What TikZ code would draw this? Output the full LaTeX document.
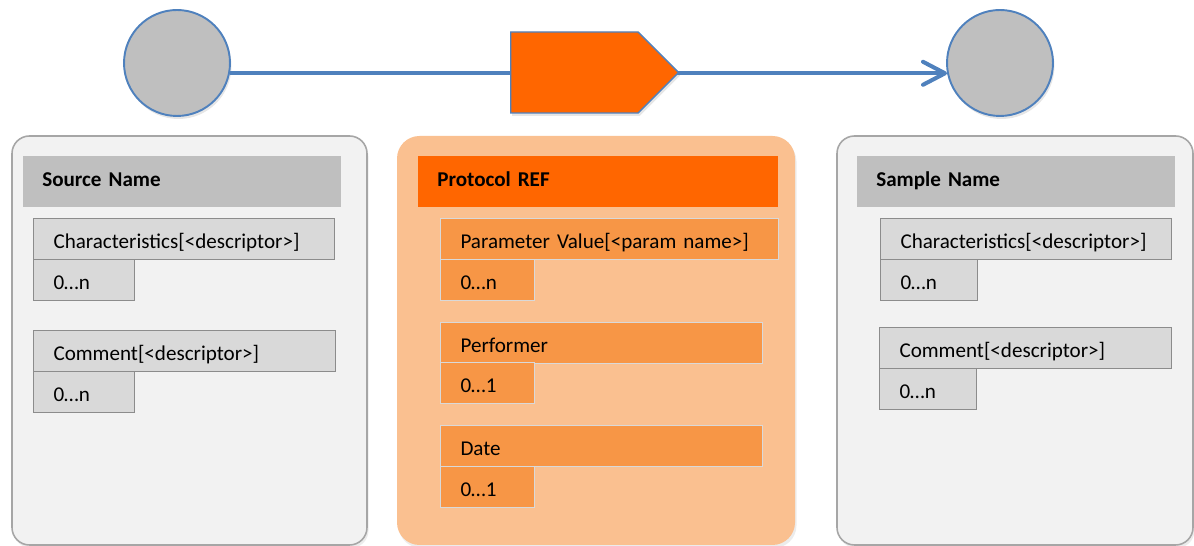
\documentclass[tikz,border=0pt]{standalone}
\usepackage{fontspec}
\setmainfont{Carlito}
\usetikzlibrary{shapes.symbols,arrows.meta,shadows}

\definecolor{linkblue}{HTML}{4F81BD}
\definecolor{nodegray}{HTML}{BFBFBF}
\definecolor{panelbg}{HTML}{F2F2F2}
\definecolor{panelline}{HTML}{A6A6A6}
\definecolor{attrgray}{HTML}{D9D9D9}
\definecolor{attrline}{HTML}{8C8C8C}
\definecolor{protobg}{HTML}{FAC090}
\definecolor{protohead}{HTML}{FF6600}
\definecolor{protoattr}{HTML}{F79646}

\tikzset{
  entity/.style={circle, draw=linkblue, line width=1.1pt, fill=nodegray, minimum size=2.12cm, inner sep=0pt, drop shadow={opacity=0.2, shadow xshift=0.03cm, shadow yshift=-0.06cm}},
  flow/.style={draw=linkblue, line width=2.3pt, -{Straight Barb[length=4.4mm,width=4.6mm,round]}},
  protocol/.style={signal, signal to=east, signal pointer angle=90, draw=linkblue, line width=0.8pt, fill=protohead, minimum width=3.36cm, minimum height=1.62cm, inner sep=0pt, drop shadow={opacity=0.2, shadow xshift=0.03cm, shadow yshift=-0.06cm}},
  panel/.style={rounded corners=0.35cm, draw=panelline, line width=0.9pt, fill=panelbg, drop shadow={opacity=0.15, shadow xshift=0.03cm, shadow yshift=-0.06cm}},
  head/.style={anchor=north west, fill=nodegray, font=\fontsize{12}{14}\selectfont\bfseries, align=left, inner xsep=0.38cm, inner ysep=0pt, minimum height=1.02cm, text height=0.2cm, text depth=0pt},
  attr/.style={anchor=north west, draw=attrline, line width=0.6pt, fill=attrgray, font=\fontsize{12}{14}\selectfont, align=left, inner xsep=0.4cm, inner ysep=0pt, minimum height=0.82cm, text height=0.38cm, text depth=0pt},
  protoattr/.style={attr, fill=protoattr, draw=attrgray},
}

\begin{document}
\begin{tikzpicture}[x=0.02cm,y=-0.02cm]
\useasboundingbox (0,0) rectangle (1194,546);

% flow on top
\node[entity] (src) at (177,63) {};
\node[entity] (smp) at (1000,63) {};
\draw[flow] (src.-11) -- (smp.191);
\node[protocol, anchor=west] (proto) at (510,72.5) {};

% source
\draw[panel] (12,136) rectangle (367,545);
\node[head, text width=5.6cm] (srchead) at (23,156) {Source Name};
\foreach \n/\x/\y/\w/\t in {char/33/218/301/{Characteristics[<descriptor>]},
  charnum/33/259/101/{0…n},
  comm/33/330/302/{Comment[<descriptor>]},
  commnum/33/371/101/{0…n}}{
  \pgfmathsetmacro\tw{\w*0.02-0.8}
  \node[attr, text width=\tw cm] (src-\n) at (\x,\y) {\t};
}

% protocol
\draw[panel, draw=none, fill=protobg, rounded corners=0.45cm] (397,136) rectangle (795,545);
\node[head, fill=protohead, text width=6.44cm] (prothead) at (418,156) {Protocol REF};
\foreach \n/\x/\y/\w/\t in {par/440/218/338/{Parameter Value[<param name>]},
  parnum/440/259/94/{0…n},
  perf/440/322/322/{Performer},
  perfnum/440/362/94/{0…1},
  date/440/425/322/{Date},
  datenum/440/466/94/{0…1}}{
  \pgfmathsetmacro\tw{\w*0.02-0.8}
  \node[protoattr, text width=\tw cm] (proto-\n) at (\x,\y) {\t};
}

% sample
\draw[panel] (837,136) rectangle (1193,545);
\node[head, text width=5.6cm] (smphead) at (857,156) {Sample Name};
\foreach \n/\x/\y/\w/\t in {char/880/218/291/{Characteristics[<descriptor>]},
  charnum/880/259/97/{0…n},
  comm/879/327/292/{Comment[<descriptor>]},
  commnum/879/368/97/{0…n}}{
  \pgfmathsetmacro\tw{\w*0.02-0.8}
  \node[attr, text width=\tw cm] (smp-\n) at (\x,\y) {\t};
}
\end{tikzpicture}
\end{document}
